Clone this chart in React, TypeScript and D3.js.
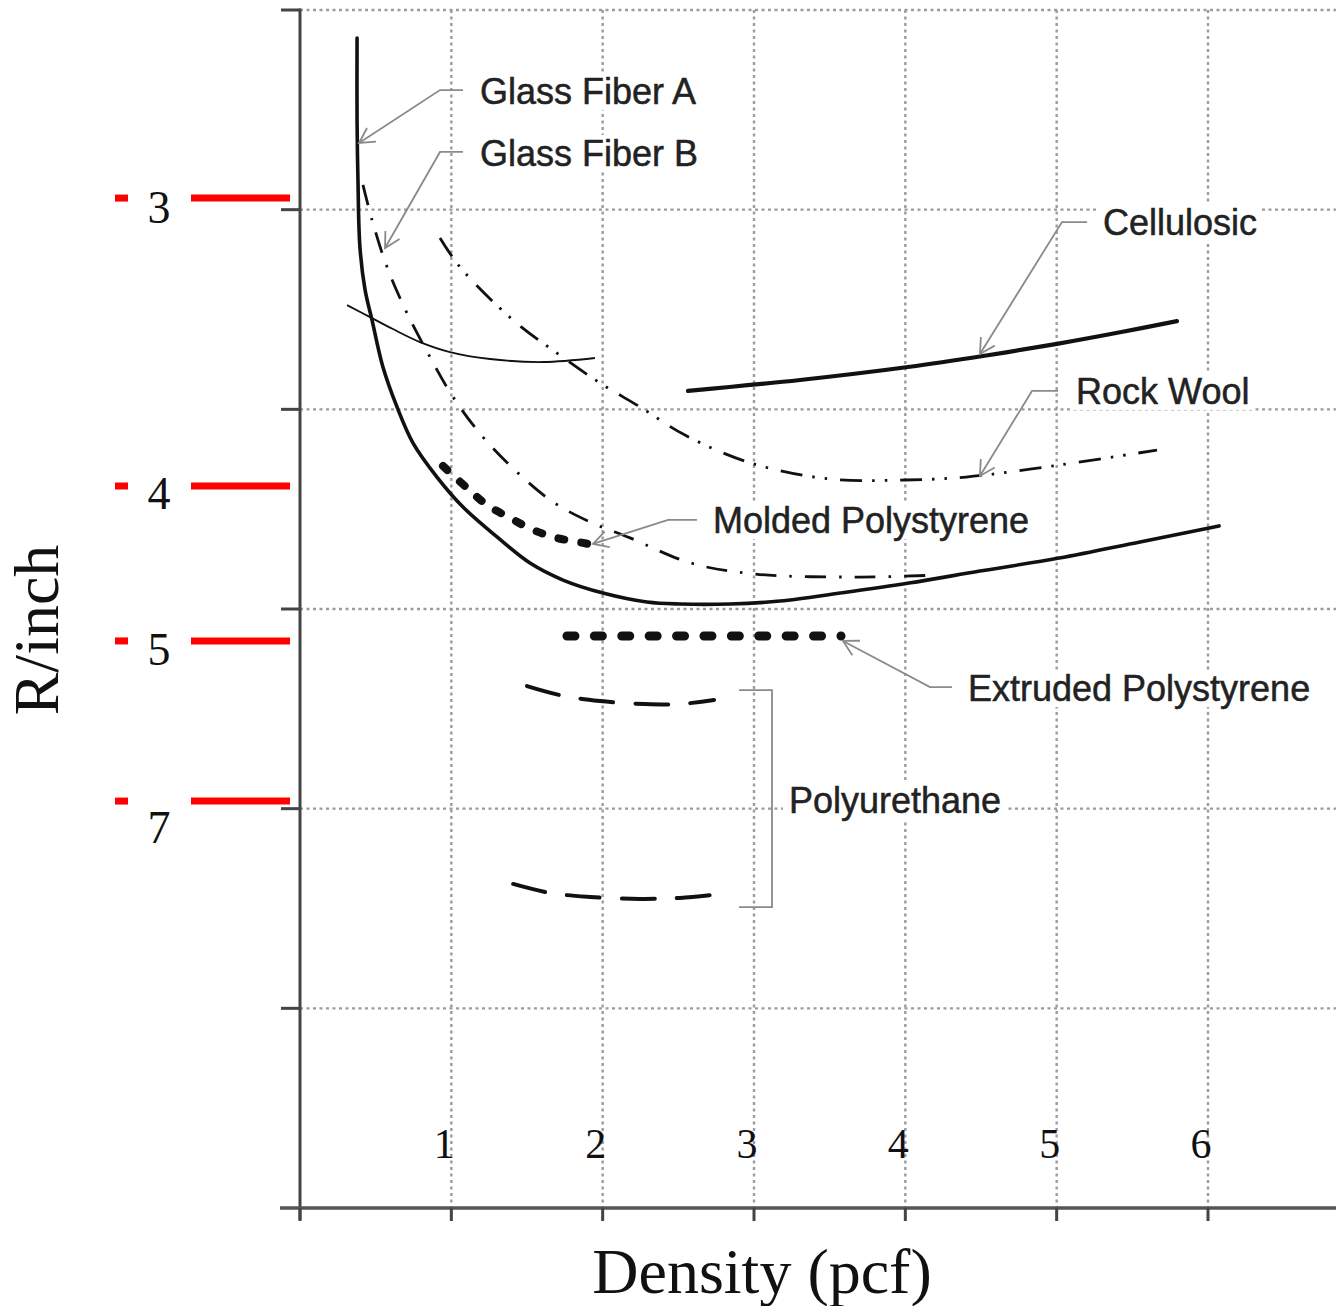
import React, { useEffect, useRef } from "react";
import * as d3 from "d3";

const W = 1336;
const H = 1306;

// grid / ticks (data units)
const xGrid = [1, 2, 3, 4, 5, 6];
const xTickLabels = ["1", "2", "3", "4", "5", "6"];
const yGrid = [1, 2, 3, 4, 5, 6];

// red R/inch overlay
const rLabels = ["3", "4", "5", "7"];
const rLevels = [5.058, 3.616, 2.84, 2.038];
const rLabelLevels = [4.933, 3.501, 2.719, 1.828];

type P = [number, number];

const glassFiberA: P[] = [
  [0.377, 5.86], [0.377, 5.449], [0.383, 5.149], [0.396, 4.813], [0.43, 4.598],
  [0.476, 4.447], [0.548, 4.212], [0.641, 4.012], [0.747, 3.831], [0.905, 3.661],
  [1.077, 3.511], [1.302, 3.361], [1.52, 3.23], [1.738, 3.145], [2.002, 3.08],
  [2.293, 3.035], [2.511, 3.025], [2.841, 3.025], [3.172, 3.04], [3.568, 3.08],
  [4.024, 3.13], [4.493, 3.19], [5.016, 3.255], [5.551, 3.336], [6.073, 3.416],
];
const glassFiberB: P[] = [
  [0.416, 5.124], [0.476, 4.948], [0.575, 4.713], [0.707, 4.482], [0.859, 4.262],
  [1.011, 4.062], [1.209, 3.861], [1.434, 3.686], [1.672, 3.536], [1.916, 3.436],
  [2.181, 3.356], [2.584, 3.23], [3.007, 3.175], [3.694, 3.16], [4.209, 3.17],
];
const rockWool: P[] = [
  [0.925, 4.858], [1.057, 4.713], [1.408, 4.447], [1.698, 4.282], [1.982, 4.132],
  [2.247, 4.012], [2.544, 3.871], [2.98, 3.731], [3.502, 3.651], [3.998, 3.646],
  [4.401, 3.661], [5.016, 3.721], [5.663, 3.796],
];
const cellulosic: P[] = [
  [2.564, 4.092], [3.304, 4.147], [4.018, 4.212], [4.513, 4.267], [5.002, 4.328],
  [5.419, 4.386], [5.795, 4.442],
];
const unlabeledThin: P[] = [
  [0.311, 4.522], [0.463, 4.462], [0.614, 4.402], [0.793, 4.337], [0.991, 4.287],
  [1.256, 4.252], [1.606, 4.237], [1.949, 4.257],
];
const moldedPolystyrene: P[] = [
  [0.945, 3.716], [1.104, 3.606], [1.236, 3.521], [1.388, 3.456], [1.54, 3.396],
  [1.698, 3.356], [1.87, 3.331], [1.936, 3.321],
];
const extrudedPolystyrene: P[] = [
  [1.764, 2.865], [3.575, 2.865],
];
const polyurethaneHigh: P[] = [
  [1.5, 2.614], [1.745, 2.564], [1.982, 2.539], [2.28, 2.524], [2.511, 2.524], [2.736, 2.544],
];
const polyurethaneLow: P[] = [
  [1.408, 1.623], [1.652, 1.578], [1.916, 1.558], [2.247, 1.548], [2.511, 1.553], [2.729, 1.568],
];

// annotations: text anchor + leader path (last point = arrow tip)
const annotations: { text: string; at: P; leader: P[]; arrow: boolean }[] = [
  { text: "Glass Fiber A", at: [1.189, 5.594], leader: [[1.077, 5.599], [0.925, 5.599], [0.39, 5.334]], arrow: true },
  { text: "Glass Fiber B", at: [1.189, 5.284], leader: [[1.077, 5.289], [0.925, 5.289], [0.562, 4.808]], arrow: true },
  { text: "Cellulosic", at: [5.306, 4.938], leader: [[5.201, 4.938], [5.035, 4.938], [4.493, 4.277]], arrow: true },
  { text: "Rock Wool", at: [5.128, 4.092], leader: [[5.009, 4.092], [4.837, 4.092], [4.493, 3.666]], arrow: true },
  { text: "Molded Polystyrene", at: [2.729, 3.446], leader: [[2.623, 3.446], [2.432, 3.446], [1.936, 3.326]], arrow: true },
  { text: "Extruded Polystyrene", at: [4.414, 2.604], leader: [[4.308, 2.609], [4.163, 2.609], [3.588, 2.84]], arrow: true },
  { text: "Polyurethane", at: [3.231, 2.043], leader: [[2.901, 2.594], [3.119, 2.594], [3.119, 1.507], [2.901, 1.507]], arrow: false },
];

export default function App() {
  const ref = useRef<SVGSVGElement>(null);

  useEffect(() => {
    const svg = d3.select(ref.current!);
    svg.selectAll("*").remove();

    const x = d3.scaleLinear().domain([0, 6]).range([300, 1208]);
    const y = d3.scaleLinear().domain([0, 6]).range([1208, 10]);

    svg.append("rect").attr("width", W).attr("height", H).attr("fill", "#ffffff");

    // gridlines
    const grid = svg.append("g").attr("stroke", "#9c9c9c").attr("stroke-width", 2.4).attr("stroke-dasharray", "3,3.5");
    yGrid.forEach((v) => {
      grid.append("line").attr("x1", x(0)).attr("x2", W).attr("y1", y(v)).attr("y2", y(v));
    });
    xGrid.forEach((v) => {
      grid.append("line").attr("x1", x(v)).attr("x2", x(v)).attr("y1", y(6)).attr("y2", y(0));
    });

    // axes
    const ax = svg.append("g").attr("stroke", "#444").attr("fill", "none");
    ax.append("line").attr("x1", x(0)).attr("x2", x(0)).attr("y1", y(6) - 1.5).attr("y2", y(0) + 12).attr("stroke-width", 3);
    ax.append("line").attr("x1", 280).attr("x2", W).attr("y1", y(0)).attr("y2", y(0)).attr("stroke-width", 3.5).attr("stroke", "#555");
    yGrid.forEach((v) => {
      ax.append("line").attr("x1", x(0) - 19).attr("x2", x(0)).attr("y1", y(v)).attr("y2", y(v)).attr("stroke-width", 3);
    });
    [0, ...xGrid].forEach((v) => {
      ax.append("line").attr("x1", x(v)).attr("x2", x(v)).attr("y1", y(0)).attr("y2", y(0) + 13).attr("stroke-width", 3);
    });

    // x tick labels
    xTickLabels.forEach((t, i) => {
      svg.append("text").attr("x", x(xGrid[i]) - 7).attr("y", 1158)
        .attr("text-anchor", "middle").attr("font-family", "'Liberation Serif','Times New Roman',serif")
        .attr("font-size", 42).attr("fill", "#111").text(t);
    });

    // series
    const line = d3.line<P>().x((d) => x(d[0])).y((d) => y(d[1])).curve(d3.curveCatmullRom.alpha(0.5));
    const series: { data: P[]; w: number; dash: string | null; cap: string }[] = [
      { data: glassFiberA, w: 3.6, dash: null, cap: "round" },
      { data: glassFiberB, w: 2.8, dash: "21,13,2.5,13", cap: "butt" },
      { data: rockWool, w: 2.8, dash: "22,10,2.5,10,2.5,13", cap: "butt" },
      { data: cellulosic, w: 4.2, dash: null, cap: "round" },
      { data: unlabeledThin, w: 1.8, dash: null, cap: "butt" },
      { data: moldedPolystyrene, w: 8, dash: "6,17", cap: "round" },
      { data: extrudedPolystyrene, w: 9, dash: "8,19.4", cap: "round" },
      { data: polyurethaneHigh, w: 4, dash: "33,22", cap: "round" },
      { data: polyurethaneLow, w: 4, dash: "33,22", cap: "round" },
    ];
    series.forEach((s) => {
      const p = svg.append("path").attr("d", line(s.data)!).attr("fill", "none")
        .attr("stroke", "#111").attr("stroke-width", s.w).attr("stroke-linecap", s.cap);
      if (s.dash) p.attr("stroke-dasharray", s.dash);
    });

    // annotations
    annotations.forEach((a) => {
      const g = svg.append("g");
      const pts = a.leader.map((d) => [x(d[0]), y(d[1])] as [number, number]);
      const t = g.append("text").attr("x", x(a.at[0])).attr("y", y(a.at[1])).attr("dy", "0.36em")
        .attr("font-family", "'Liberation Sans',Arial,sans-serif").attr("font-size", 36)
        .attr("fill", "#222").attr("stroke", "#222").attr("stroke-width", 0.5).text(a.text);
      const bb = (t.node() as SVGTextElement).getBBox();
      g.insert("rect", "text").attr("x", bb.x - 6).attr("y", bb.y + 2).attr("width", bb.width + 10)
        .attr("height", bb.height - 4).attr("fill", "#ffffff");
      g.append("path").attr("d", d3.line()(pts)!).attr("fill", "none").attr("stroke", "#8a8a8a").attr("stroke-width", 1.8);
      if (a.arrow) {
        const tip = pts[pts.length - 1];
        const prev = pts[pts.length - 2];
        const ang = Math.atan2(prev[1] - tip[1], prev[0] - tip[0]);
        const L = 17;
        const spread = 0.5;
        const p1 = [tip[0] + L * Math.cos(ang + spread), tip[1] + L * Math.sin(ang + spread)];
        const p2 = [tip[0] + L * Math.cos(ang - spread), tip[1] + L * Math.sin(ang - spread)];
        g.append("path").attr("d", `M${p1[0]},${p1[1]}L${tip[0]},${tip[1]}L${p2[0]},${p2[1]}`)
          .attr("fill", "none").attr("stroke", "#8a8a8a").attr("stroke-width", 1.8);
      }
    });

    // red R/inch overlay
    rLabels.forEach((lab, i) => {
      const yy = y(rLevels[i]);
      svg.append("line").attr("x1", 115).attr("x2", 128).attr("y1", yy).attr("y2", yy).attr("stroke", "#ff0000").attr("stroke-width", 7);
      svg.append("line").attr("x1", 191).attr("x2", 290).attr("y1", yy).attr("y2", yy).attr("stroke", "#ff0000").attr("stroke-width", 7);
      svg.append("text").attr("x", 159).attr("y", y(rLabelLevels[i])).attr("text-anchor", "middle")
        .attr("font-family", "'Liberation Serif','Times New Roman',serif").attr("font-size", 46)
        .attr("fill", "#111").text(lab);
    });

    // axis titles
    svg.append("text").attr("transform", "translate(58,630) rotate(-90)").attr("text-anchor", "middle")
      .attr("font-family", "'Liberation Serif','Times New Roman',serif").attr("font-size", 64).attr("fill", "#111")
      .text("R/inch");
    svg.append("text").attr("x", 762).attr("y", 1293).attr("text-anchor", "middle")
      .attr("font-family", "'Liberation Serif','Times New Roman',serif").attr("font-size", 64).attr("fill", "#111")
      .text("Density (pcf)");
  }, []);

  return (
    <svg ref={ref} width={W} height={H} viewBox={`0 0 ${W} ${H}`}
      style={{ position: "absolute", left: 0, top: 0, display: "block" }} />
  );
}
